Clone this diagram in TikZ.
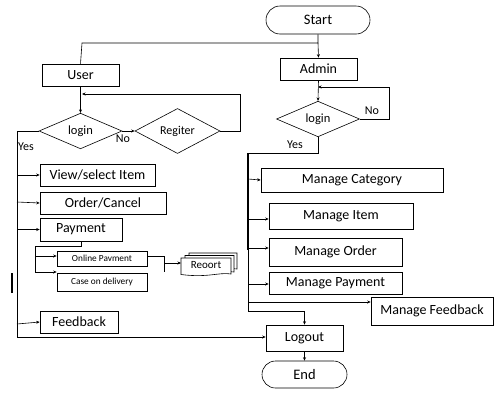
\documentclass[tikz,border=0pt]{standalone}
\usepackage{fontspec}
\setmainfont{Carlito}
\usetikzlibrary{arrows.meta,shapes.geometric,shapes.misc}
\begin{document}
\begin{tikzpicture}[x=1pt,y=-1pt,line width=0.6pt,
  box/.style={draw,rectangle,inner sep=0pt,font=\fontsize{14}{14}\selectfont},
  sbox/.style={draw,rectangle,inner sep=0pt,font=\fontsize{9.3}{9.3}\selectfont},
  term/.style={draw,rounded rectangle,inner sep=0pt,font=\fontsize{14.5}{14.5}\selectfont},
  dia/.style={draw,diamond,inner sep=0pt,font=\fontsize{12.5}{12.5}\selectfont},
  lbl/.style={font=\fontsize{12}{12}\selectfont,inner sep=0pt},
  arr/.style={-{Stealth[length=3.5pt,width=3pt]}}]
\useasboundingbox (0,0) rectangle (500,402);

% nodes
\node[term,minimum width=104pt,minimum height=28pt] (start) at (318,20) {Start};
\node[box,minimum width=77pt,minimum height=22pt] (user) at (80.5,75) {User};
\node[box,minimum width=77pt,minimum height=22pt] (admin) at (318.5,69) {Admin};
\node[dia,minimum width=83pt,minimum height=35pt] (ulogin) at (80.5,131) {login};
\node[dia,minimum width=85pt,minimum height=35pt,font=\fontsize{12}{12}\selectfont] (reg) at (177.5,131) {Regiter};
\node[dia,minimum width=83pt,minimum height=34pt] (alogin) at (318,119) {login};

\node[box,minimum width=115pt,minimum height=22pt] (view) at (97.5,175) {View/select Item};
\node[box,minimum width=126pt,minimum height=22pt] (order) at (103,203) {Order/Cancel};
\node[box,minimum width=82pt,minimum height=23pt] (pay) at (81,229.5) {Payment};
\node[sbox,minimum width=90pt,minimum height=15pt] (online) at (102,258.5) {Online Pavment};
\node[sbox,minimum width=90pt,minimum height=18pt] (cod) at (102,282) {Case on delivery};
\node[box,minimum width=78pt,minimum height=22pt] (fb) at (79,322) {Feedback};

\node[box,minimum width=182pt,minimum height=24pt] (mcat) at (352,180) {Manage Category};
\node[box,minimum width=144pt,minimum height=26pt] (mitem) at (341,216) {Manage Item};
\node[box,minimum width=133pt,minimum height=28pt] (morder) at (335.5,252) {Manage Order};
\node[box,minimum width=133pt,minimum height=22pt] (mpay) at (335.5,283) {Manage Payment};
\node[box,minimum width=122pt,minimum height=28pt] (mfb) at (432,311) {Manage Feedback};
\node[box,minimum width=77pt,minimum height=26pt] (logout) at (304.5,338) {Logout};
\node[term,minimum width=85pt,minimum height=27pt] (end) at (304.5,374.5) {End};

% report (multiple documents)
\coordinate (rep) at (206,265.5);
\draw[fill=white] (189,253) -- (237,253) -- (237,269) .. controls (225,267) and (215,272) .. (189,270) -- cycle;
\draw[fill=white] (185,255.5) -- (234,255.5) -- (234,272) .. controls (222,270) and (212,275) .. (185,272.5) -- cycle;
\draw[fill=white] (181,258) -- (231,258) -- (231,274) .. controls (219,272) and (208,278) .. (181,274.5) -- cycle;
\node[inner sep=0pt,font=\fontsize{11}{11}\selectfont] (reptext) at (rep) {Reoort};

% labels
\node[lbl] (no1) at (123,138.5) {No};
\node[lbl] (yes1) at (26,147) {Yes};
\node[lbl] (no2) at (372,111) {No};
\node[lbl] (yes2) at (295,145) {Yes};

% coordinates
\coordinate (topL) at (82,43);
\coordinate (regR) at (240,131);
\coordinate (regT) at (240,94);
\coordinate (uJ) at (82,94);
\coordinate (aR) at (389,119);
\coordinate (aT) at (389,87);
\coordinate (aJ) at (318,87);
\coordinate (lx) at (17,131);
\coordinate (lb) at (17,337);
\coordinate (payB) at (81,246);
\coordinate (pl) at (35,246);
\coordinate (pb) at (35,272);
\coordinate (br) at (164,256);
\coordinate (brb) at (164,272);
\coordinate (ax) at (318,153);
\coordinate (ay) at (248,153);
\coordinate (ab) at (248,311);
\coordinate (ar) at (304.5,311);

% connectors: start
\draw (start.south) -- (318,43) -- (topL) -- (user.north);
\draw[arr] (318,43) -- (admin.north);
% user side
\draw[arr] (user.south) -- (ulogin.north);
\draw[arr] (ulogin.east) -- (reg.west);
\draw (reg.east) -- (regR) -- (regT);
\draw[arr] (regT) -- (uJ);
\draw (ulogin.west) -- (lx) -- (lb);
\draw[arr] (lb) -- (lb -| logout.west);
\draw[arr] (17,175) -- (view.west);
\draw[arr] (17,202) -- (order.west);
\draw[arr] (17,229.5) -- (pay.west);
\draw[arr] (17,324) -- (fb.west);
\draw (pay.south) -- (payB) -- (pl) -- (pb);
\draw[arr] (35,256) -- (online.west |- 35,256);
\draw[arr] (pb) -- (cod.west |- pb);
\draw (online.east |- br) -- (br) -- (brb);
\draw[arr] (164,263) -- (181,263);
\draw[line width=1.2pt] (12,273) -- (12,293);
% admin side
\draw[arr] (admin.south) -- (alogin.north);
\draw (alogin.east) -- (aR) -- (aT);
\draw[arr] (aT) -- (aJ);
\draw (alogin.south) -- (ax) -- (ay);
\draw[line width=1.2pt] (ay) -- (248,250);
\draw (248,250) -- (ab) -- (ar);
\draw[arr] (ar) -- (logout.north);
\draw[arr] (248,179) -- (mcat.west);
\draw[arr] (248,219) -- (mitem.west |- 248,219);
\draw[arr] (248,248) -- (morder.west |- 248,248);
\draw[arr] (248,284) -- (mpay.west |- 248,284);
\draw[arr] (248,302) -- (mfb.west |- 248,302);
\draw[arr] (logout.south) -- (end.north);
\end{tikzpicture}
\end{document}
